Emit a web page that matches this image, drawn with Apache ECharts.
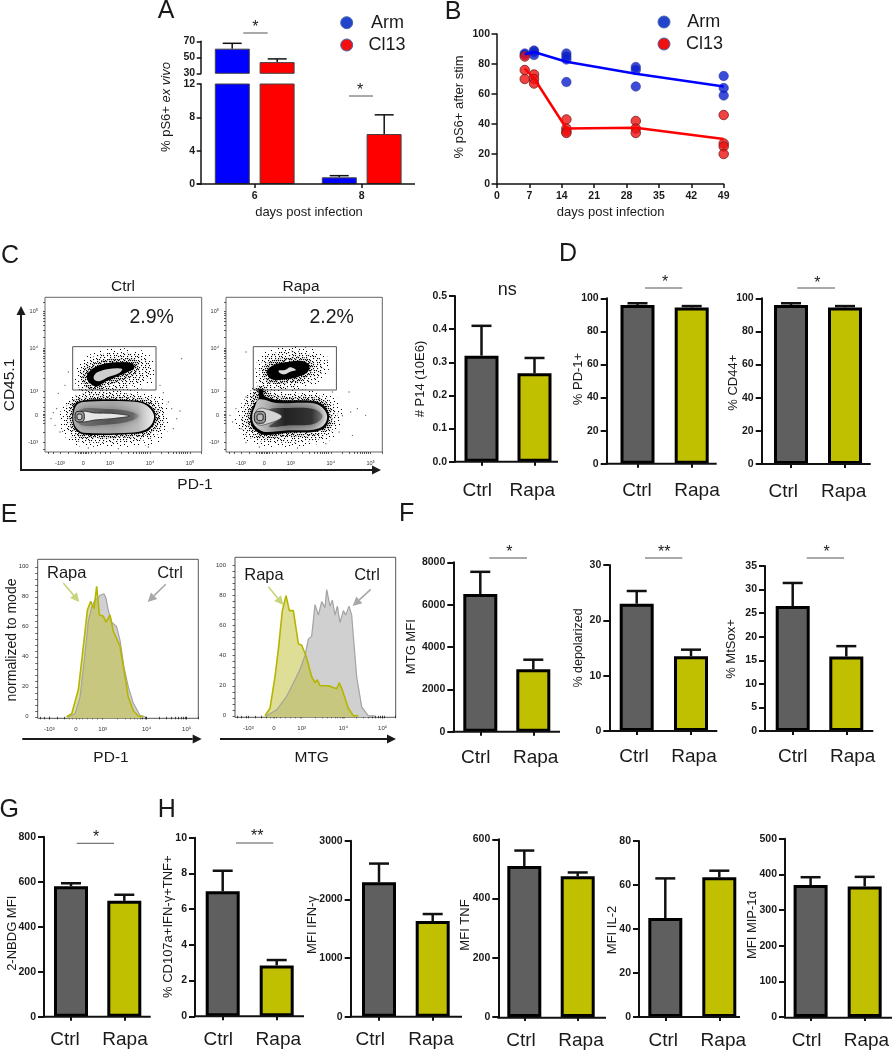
<!DOCTYPE html>
<html><head><meta charset="utf-8">
<style>html,body{margin:0;padding:0;background:#fff}#c{width:892px;height:1050px}</style>
<script src="https://cdn.jsdelivr.net/npm/echarts@6/dist/echarts.min.js"></script>
</head><body><div id="c"></div>
<script>
// ---------- DATA ----------
const categories = ['Ctrl', 'Rapa'];
const infectionDays = ['6', '8'];
const armMean = [60.8, 0.8], armHigh = [67.5, 1.0];
const cl13Mean = [44, 6], cl13High = [48, 8.3];
const bDayTicks = 7;
const armDots = [[6,87],[6,86],[8,89],[8,88],[8,86],[15,87],[15,85],[15,83],[15,68],[30,78],[30,76],[30,65],[49,72],[49,64],[49,59]];
const cl13Dots = [[6,85],[6,76],[6,70],[8,73],[8,70],[8,67],[15,43],[15,37],[15,35],[15,34],[30,42],[30,37],[30,34],[49,46],[49,27],[49,25],[49,20]];
const armLine = [[6,86.5],[8,88],[15,81.5],[30,73.5],[49,65]];
const cl13Line = [[6,77],[8,70.5],[15,37],[30,37.5],[49,30]];

const p14 = [0.32, 0.267], p14Hi = [0.41, 0.313];
const pd1 = [96, 94.5], pd1Hi = [97, 95.3];
const cd44 = [96, 94.5], cd44Hi = [97, 95.3];
const mtg = [6500, 2950], mtgHi = [7550, 3400];
const depol = [23, 13.5], depolHi = [25.3, 14.7];
const mtsox = [26.5, 15.8], mtsoxHi = [31.4, 18];
const nbdg = [580, 515], nbdgHi = [593, 542];
const cd107 = [7, 2.85], cd107Hi = [8.15, 3.15];
const ifng = [2290, 1630], ifngHi = [2610, 1750];
const tnf = [510, 475], tnfHi = [562, 488];
const il2 = [45, 63.5], il2Hi = [63, 66.5];
const mip = [370, 366], mipHi = [392, 393];

// histograms: [display channel, % of mode]
const histPdCtrl = [[92,0],[112,2],[127,13],[142,42],[152,64],[162,73],[172,78],[182,79],[187,81],[199,82],[205,79],[212,71],[222,63],[237,60],[247,51],[259,33],[272,20],[287,9],[307,1],[322,0]];
const histPdRapa = [[87,0],[102,2],[122,18],[137,47],[149,71],[159,77],[169,72],[177,87],[185,68],[197,67],[205,63],[217,68],[227,57],[247,47],[259,31],[272,13],[287,4],[302,0.5],[317,0]];
const histMtgCtrl = [[95,0],[125,4],[155,13],[180,24],[195,31],[210,40],[220,51],[230,53],[240,74],[250,67],[260,76],[270,72],[275,84],[285,73],[292,77],[300,67],[307,73],[315,62],[325,70],[332,67],[342,73],[350,67],[355,53],[365,26],[380,6],[400,0],[420,0]];
const histMtgRapa = [[90,0],[105,5],[120,26],[130,44],[142,70],[153,80],[163,70],[175,70],[190,48],[200,47],[213,40],[230,26],[240,22],[247,24],[255,20],[280,20],[305,18],[313,22],[322,17],[340,5],[355,0],[370,0]];
const histTickLabels = ['-10³', '0', '10³', '10⁴', '10⁵'];
const histPdTicks = [35, 115, 195, 327, 447];
const histMtgTicks = [40, 117, 200, 325, 443];
const histMinorTicks = [8,20,35,60,80,95,105,115,125,135,150,165,180,195,240,262,278,290,300,308,315,322,327,365,385,400,412,422,430,437,442,447,482];

// flow cytometry: display channel ticks
const flowTickLabels = ['-10³', '0', '10³', '10⁴', '10⁵'];
const flowXTicks = [45, 115, 195, 315, 435];
const flowYTicks = [29, 109, 183, 311, 421];
const flowXMinor = [10,25,45,70,90,100,105,110,115,120,125,130,140,150,165,180,195,230,250,265,275,283,290,296,301,308,315,350,370,385,395,403,410,416,421,428,435,470];
const flowYMinor = [8,29,60,85,95,105,109,113,123,135,150,165,183,220,242,258,270,280,288,295,301,306,311,345,365,380,392,401,409,415,421,450];
const gateCtrl = [[83,186],[333,186],[333,316],[83,316]];
const gateRapa = [[82,186],[332,186],[332,316],[82,316]];
// contours of the Ctrl plot
const ctrlUpSpeck2 = [[90,226],[105,271],[155,301],[235,311],[305,298],[330,256],[320,206],[255,181],[185,161],[105,171]];
const ctrlUpSpeck1 = [[100,216],[112,258],[155,290],[225,298],[290,290],[316,256],[305,222],[265,200],[205,178],[150,168],[108,180]];
const ctrlUpHalo = [[112,226],[122,252],[160,272],[215,281],[270,278],[285,256],[268,232],[225,212],[185,196],[150,185],[122,195]];
const ctrlUpBlack = [[125,226],[135,244],[165,261],[215,269],[260,266],[268,254],[250,241],[215,226],[180,211],[155,196],[135,206]];
const ctrlUpLight = [[146,226],[157,239],[190,249],[231,249],[223,237],[190,225],[165,213],[150,215]];
const ctrlLowSpeck2 = [[45,116],[70,161],[115,178],[335,172],[372,116],[355,40],[285,18],[165,16],[85,22],[50,66]];
const ctrlLowSpeck1 = [[62,106],[72,156],[110,174],[185,178],[285,172],[335,155],[358,111],[340,55],[285,33],[165,28],[95,33],[68,62]];
const ctrlLowHalo = [[75,118],[82,152],[110,162],[165,166],[250,164],[300,158],[330,140],[343,108],[335,74],[310,52],[255,44],[165,41],[105,44],[84,60],[74,90]];
const ctrlLowBlack = [[83,121],[90,144],[110,154],[165,158],[245,156],[295,150],[320,134],[332,108],[325,81],[303,61],[255,54],[165,51],[110,54],[90,69],[82,96]];
const ctrlLowFill = [[87,121],[95,141],[115,150],[245,152],[292,146],[316,130],[327,108],[320,83],[299,66],[255,58],[115,58],[94,72],[85,96]];
const ctrlLowMid = [[108,128],[170,130],[245,124],[282,108],[245,90],[170,81],[110,80],[96,100]];
const ctrlLowStreak = [[98,108],[112,122],[150,117],[200,116],[253,108],[200,100],[150,96],[112,90],[100,98]];
const ctrlRing1 = [[90,106],[103,122],[118,106],[103,90]];
const ctrlRing2 = [[96,106],[103,114],[111,106],[103,97]];
const ctrlOutliers = [[25,118],[18,100],[35,130],[30,80],[45,60],[380,130],[395,100],[385,70],[370,150],[410,280],[345,200],[60,200],[40,176],[70,240],[310,15],[220,10],[130,12],[405,123],[355,178],[480,20]];
// contours of the Rapa plot
const rapaUpSpeck2 = [[88,231],[108,296],[188,316],[278,304],[313,271],[288,216],[218,188],[108,188]];
const rapaUpSpeck1 = [[100,236],[115,280],[168,302],[238,298],[290,274],[285,232],[232,200],[158,190],[105,198]];
const rapaUpHalo = [[110,240],[125,268],[175,282],[232,285],[262,265],[258,236],[225,214],[178,206],[130,206]];
const rapaUpBlack = [[123,241],[138,258],[178,269],[228,273],[250,261],[246,241],[218,226],[178,218],[138,218]];
const rapaUpLight = [[158,244],[178,246],[193,254],[210,246],[193,241],[176,233],[163,236]];
const rapaLowSpeck2 = [[25,110],[50,150],[95,195],[330,165],[350,110],[325,45],[265,22],[125,16],[55,35],[30,75]];
const rapaLowSpeck1 = [[48,110],[62,160],[90,198],[150,176],[270,172],[318,150],[335,108],[312,56],[262,34],[125,29],[66,45],[46,80]];
const rapaLowHalo = [[90,195],[118,195],[125,178],[160,166],[262,164],[302,150],[320,108],[310,70],[272,50],[188,47],[118,41],[85,52],[66,78],[63,111],[75,145]];
const rapaLowBlack = [[98,188],[110,188],[116,168],[158,156],[258,154],[293,141],[310,108],[300,76],[268,61],[188,58],[118,51],[93,61],[76,81],[73,111],[83,141],[98,161]];
const rapaLowFill = [[100,158],[153,147],[258,147],[288,135],[304,108],[294,80],[263,67],[188,65],[118,60],[98,68],[82,86],[79,111],[87,136]];
const rapaLowMid = [[130,128],[190,132],[265,128],[290,106],[262,84],[190,80],[130,76],[165,106]];
const rapaLowStreak = [[93,126],[113,131],[168,106],[113,81],[93,84],[86,104]];
const rapaRing1 = [[85,104],[103,122],[119,104],[103,86]];
const rapaRing2 = [[93,104],[103,114],[112,104],[103,94]];
const rapaOutliers = [[12,110],[20,90],[30,130],[45,70],[60,165],[350,110],[375,120],[340,60],[380,50],[395,130],[320,180],[60,300],[420,110],[300,25],[215,12],[100,15],[60,28],[305,275],[370,180]];

// ---------- HELPERS ----------
const FF = "'Liberation Sans', Arial, sans-serif";
const INK = '#1a1a1a', GREY = '#5f5f5f', OLIVE = '#c0c000', BLUE = '#0000ff', RED = '#ff0000';
const grid = [], xAxis = [], yAxis = [], series = [], graphic = [];

function text(s, x, y, size, opt) {
  opt = opt || {};
  graphic.push({ type: 'text', x, y, rotation: opt.rot || 0, silent: true, z: 50,
    style: { text: s, fontSize: size, fontFamily: FF, fontWeight: opt.bold ? 'bold' : 'normal', fill: opt.color || INK,
      textAlign: opt.align || 'center', textVerticalAlign: 'middle', rich: opt.rich } });
}
function vtext(s, x, y, size, opt) { text(s, x, y, size, Object.assign({ rot: Math.PI / 2 }, opt || {})); }
function line(x1, y1, x2, y2, color, w) {
  graphic.push({ type: 'line', silent: true, z: 40, shape: { x1, y1, x2, y2 }, style: { stroke: color, lineWidth: w } });
}
function arrow(x1, y1, x2, y2, color, w, head, hw) {
  const a = Math.atan2(y2 - y1, x2 - x1), c = Math.cos(a), s = Math.sin(a);
  const bx = x2 - c * head, by = y2 - s * head;
  line(x1, y1, bx, by, color, w);
  graphic.push({ type: 'polygon', silent: true, z: 41, shape: { points: [[x2, y2], [bx - s * hw, by + c * hw], [bx + s * hw, by - c * hw]] }, style: { fill: color } });
}
function sig(x1, x2, y, stars, sx, sy) {
  line(x1, y, x2, y, '#555', 1);
  text(stars, sx, sy + 2, 16, { bold: false });
}
function addGrid(left, top, width, height) {
  grid.push({ left, top, width, height, containLabel: false });
  return grid.length - 1;
}
function errSeries(g, triples, off, lw, cap) {
  series.push({ type: 'custom', xAxisIndex: g, yAxisIndex: g, silent: true, animation: false, clip: false, z: 1,
    data: triples, encode: { x: 0, y: [1, 2] },
    renderItem: (p, api) => {
      const lo = api.coord([api.value(0), api.value(1)]), hi = api.coord([api.value(0), api.value(2)]);
      const x = lo[0] + off;
      return { type: 'group', children: [
        { type: 'line', shape: { x1: x, y1: lo[1], x2: x, y2: hi[1] }, style: { stroke: '#111', lineWidth: lw } },
        { type: 'line', shape: { x1: x - cap, y1: hi[1], x2: x + cap, y2: hi[1] }, style: { stroke: '#111', lineWidth: lw } } ] };
    } });
}
function barPanel(o) {
  const left = o.c1 - (o.c2 - o.c1) / 2, width = 2 * (o.c2 - o.c1);
  const g = addGrid(left, o.top, width, o.y0 - o.top);
  const s1 = o.lab[0] - o.c1, s2 = o.lab[1] - o.c2;
  const pad = s => [0, Math.max(0, -2 * s), 0, Math.max(0, 2 * s)];
  xAxis.push({ type: 'category', gridIndex: g, data: categories,
    axisLine: { show: false }, axisTick: { show: true, alignWithLabel: true, length: 4, lineStyle: { color: '#111', width: 2 } },
    axisLabel: { margin: o.lm, interval: 0, formatter: v => v === 'Ctrl' ? '{c|Ctrl}' : '{r|Rapa}',
      rich: { c: { fontSize: 19, fontFamily: FF, color: INK, padding: pad(s1) }, r: { fontSize: 19, fontFamily: FF, color: INK, padding: pad(s2) } } } });
  yAxis.push({ type: 'value', gridIndex: g, min: 0, max: o.max, interval: o.interval, offset: left - o.ax, splitLine: { show: false },
    axisLine: { show: true, lineStyle: { color: '#111', width: 2 } }, axisTick: { show: true, length: 6, lineStyle: { color: '#111', width: 2 } },
    axisLabel: { margin: 8, fontSize: 10.5, fontWeight: 'bold', fontFamily: FF, color: INK, formatter: v => (+v).toFixed(o.dec || 0) } });
  errSeries(g, o.vals.map((v, i) => [i, v, o.errs[i]]), 0, 2.5, 10);
  series.push({ type: 'bar', xAxisIndex: g, yAxisIndex: g, animation: false, barWidth: 34, silent: true, z: 2,
    data: o.vals.map((v, i) => ({ value: v, itemStyle: { color: i ? OLIVE : GREY } })),
    itemStyle: { borderColor: '#000', borderWidth: 3 } });
  line(o.ax - 1, o.y0, o.end, o.y0, '#111', 2);
  vtext(o.title, o.tx, o.ty, o.ts || 13);
}
function poly(g, points, style, smooth) {
  series.push({ type: 'custom', xAxisIndex: g, yAxisIndex: g, silent: true, animation: false, clip: false,
    data: points, encode: { x: 0, y: 1 },
    renderItem: (p, api) => p.dataIndex ? null : ({ type: 'polygon',
      shape: { points: points.map(q => api.coord(q)), smooth: smooth === undefined ? 0.35 : smooth }, style }) });
}
const grad = (x0, y0, x1, y1, stops) => new echarts.graphic.LinearGradient(x0, y0, x1, y1, stops.map(s => ({ offset: s[0], color: s[1] })));
// texture tile standing in for the individual events of a dot plot
function speckle(n, dot) {
  const S = 48, cv = document.createElement('canvas');
  cv.width = cv.height = S;
  const c = cv.getContext('2d');
  c.fillStyle = '#000';
  for (let i = 1; i <= n; i++) {
    const x = (i * 0.7548776662) % 1, y = (i * 0.5698402910) % 1;
    c.fillRect(Math.round(x * S), Math.round(y * S), dot, dot);
  }
  return { image: cv, repeat: 'repeat' };
}
const denseDots = { fill: speckle(620, 1.2) };
const midDots = { fill: speckle(340, 1.1) };
const sparseDots = { fill: speckle(130, 1) };
function flowAxes(g) {
  const fmtX = v => flowTickLabels[flowXTicks.indexOf(v)] || '';
  const fmtY = v => flowTickLabels[flowYTicks.indexOf(v)] || '';
  const small = { fontSize: 5.5, fontFamily: FF, color: '#333' };
  xAxis.push({ type: 'value', gridIndex: g, min: 0, max: 470, splitLine: { show: false }, axisLine: { show: false },
    axisTick: { show: true, length: 2, customValues: flowXMinor, lineStyle: { color: '#333', width: 0.8 } },
    axisLabel: Object.assign({ customValues: flowXTicks, formatter: fmtX, margin: 8 }, small) });
  yAxis.push({ type: 'value', gridIndex: g, min: 0, max: 464, splitLine: { show: false }, axisLine: { show: false },
    axisTick: { show: true, length: 2, customValues: flowYMinor, lineStyle: { color: '#333', width: 0.8 } },
    axisLabel: Object.assign({ customValues: flowYTicks, formatter: fmtY, margin: 7 }, small) });
}
function outliers(g, pts) {
  series.push({ type: 'scatter', xAxisIndex: g, yAxisIndex: g, silent: true, animation: false, data: pts, symbolSize: 1.3, itemStyle: { color: '#333' } });
}
function histPanel(left, top, w, h, ymin, ymax, ticks, ctrl, rapa) {
  const g = addGrid(left, top, w, h);
  grid[g].show = true; grid[g].borderColor = '#555'; grid[g].borderWidth = 1; grid[g].backgroundColor = 'transparent';
  xAxis.push({ type: 'value', gridIndex: g, min: 0, max: 482, splitLine: { show: false }, axisLine: { show: false },
    axisTick: { show: true, length: 2.5, customValues: histMinorTicks.concat(ticks), lineStyle: { color: '#222', width: 0.8 } },
    axisLabel: { customValues: ticks, formatter: v => histTickLabels[ticks.indexOf(v)] || '', fontSize: 6, fontFamily: FF, color: '#333', margin: 8 } });
  yAxis.push({ type: 'value', gridIndex: g, min: ymin, max: ymax, splitLine: { show: false }, axisLine: { show: false },
    axisTick: { show: true, length: 2.5, customValues: [0,4,8,12,16,20,24,28,32,36,40,44,48,52,56,60,64,68,72,76,80,84,88,92,96,100], lineStyle: { color: '#222', width: 0.7 } },
    axisLabel: { customValues: [0,20,40,60,80,100], fontSize: 6, fontFamily: FF, color: '#333', margin: 9 } });
  series.push({ type: 'line', xAxisIndex: g, yAxisIndex: g, name: 'Ctrl', animation: false, silent: true, showSymbol: false, data: ctrl,
    lineStyle: { color: '#a3a3a3', width: 1.2 }, areaStyle: { color: '#d0d0d0', origin: 'start', opacity: 1 } });
  series.push({ type: 'line', xAxisIndex: g, yAxisIndex: g, name: 'Rapa', animation: false, silent: true, showSymbol: false, data: rapa,
    lineStyle: { color: '#b5b500', width: 1.6 }, areaStyle: { color: '#bdbd30', origin: 'start', opacity: 0.5 } });
}

// ---------- PANEL A ----------
(function () {
  const L = 201.2, W = 214;
  const up = addGrid(L, 41.3, W, 32), lo = addGrid(L, 84, W, 100);
  const yStyle = { margin: 6, fontSize: 10.5, fontWeight: 'bold', fontFamily: FF, color: INK };
  const yLine = { show: true, lineStyle: { color: '#222', width: 1.6 } };
  xAxis.push({ type: 'category', gridIndex: up, data: infectionDays, show: false });
  xAxis.push({ type: 'category', gridIndex: lo, data: infectionDays, axisLine: { show: false },
    axisTick: { show: true, alignWithLabel: true, length: 4, lineStyle: { color: '#111', width: 1.5 } },
    axisLabel: { margin: 7, fontSize: 10.5, fontWeight: 'bold', fontFamily: FF, color: INK } });
  yAxis.push({ type: 'value', gridIndex: up, min: 30, max: 70, splitLine: { show: false }, axisLine: yLine,
    axisTick: { show: true, length: 4.5, customValues: [30, 50, 70], lineStyle: { color: '#111', width: 1.5 } },
    axisLabel: Object.assign({ customValues: [30, 50, 70] }, yStyle) });
  yAxis.push({ type: 'value', gridIndex: lo, min: 0, max: 12, interval: 4, splitLine: { show: false }, axisLine: yLine,
    axisTick: { show: true, length: 4.5, lineStyle: { color: '#111', width: 1.5 } }, axisLabel: yStyle });
  errSeries(up, [[0, armMean[0], armHigh[0]]], -22.5, 1.5, 9.5);
  errSeries(up, [[0, cl13Mean[0], cl13High[0]]], 22.5, 1.5, 9.5);
  errSeries(lo, [[1, armMean[1], armHigh[1]]], -22.5, 1.5, 9.5);
  errSeries(lo, [[1, cl13Mean[1], cl13High[1]]], 22.5, 1.5, 9.5);
  [[up, [armMean[0], null], [cl13Mean[0], null]], [lo, armMean, cl13Mean]].forEach(r => {
    [['Arm', BLUE, r[1]], ['Cl13', RED, r[2]]].forEach(s => {
      series.push({ type: 'bar', name: s[0], xAxisIndex: r[0], yAxisIndex: r[0], animation: false, silent: true, clip: true, z: 2,
        data: s[2], barWidth: 35, barGap: '28%', itemStyle: { color: s[1], borderColor: '#444', borderWidth: 1 } });
    });
  });
  line(196.7, 184, 415, 184, '#111', 1.5);
  text('A', 166, 11, 25);
  vtext('{n|% pS6+ }{i|ex vivo}', 166.7, 107, 13, { rich: { n: { fontSize: 13, fontFamily: FF, fill: INK, color: INK }, i: { fontSize: 13, fontFamily: FF, fontStyle: 'italic', fill: INK, color: INK } } });
  text('days post infection', 309, 212, 13);
  sig(243.3, 267.7, 33, '*', 255.3, 26);
  sig(349, 373, 96, '*', 360, 88.7);
  [[346.7, 22.7, '#2244cc', 'Arm', 371], [346.7, 45, '#f01010', 'Cl13', 368.5]].forEach(l => {
    graphic.push({ type: 'circle', silent: true, shape: { cx: l[0], cy: l[1], r: 6 }, style: { fill: l[2], stroke: '#4a66aa', lineWidth: 1 } });
    text(l[3], l[4], l[1], 18, { align: 'left' });
  });
})();

// ---------- PANEL B ----------
(function () {
  const g = addGrid(497, 34, 226.7, 150);
  const st = { margin: 7, fontSize: 10.5, fontWeight: 'bold', fontFamily: FF, color: INK };
  xAxis.push({ type: 'value', gridIndex: g, min: 0, max: 49, interval: bDayTicks, splitLine: { show: false },
    axisLine: { show: true, onZero: false, lineStyle: { color: '#111', width: 1.5 } }, axisTick: { show: true, length: 4, lineStyle: { color: '#111', width: 1.5 } },
    axisLabel: Object.assign({}, st, { margin: 7 }) });
  yAxis.push({ type: 'value', gridIndex: g, min: 0, max: 100, interval: 20, splitLine: { show: false },
    axisLine: { show: true, onZero: false, lineStyle: { color: '#111', width: 1.5 } }, axisTick: { show: true, length: 5.5, lineStyle: { color: '#111', width: 1.5 } }, axisLabel: st });
  series.push({ type: 'line', name: 'Arm', xAxisIndex: g, yAxisIndex: g, data: armLine, showSymbol: false, animation: false, silent: true, lineStyle: { color: BLUE, width: 2.5 } });
  series.push({ type: 'scatter', name: 'Arm', xAxisIndex: g, yAxisIndex: g, data: armDots, symbolSize: 9.5, animation: false, silent: true, clip: false, itemStyle: { color: '#0a1fd0', borderColor: '#222a88', borderWidth: 0.6 } });
  series.push({ type: 'line', name: 'Cl13', xAxisIndex: g, yAxisIndex: g, data: cl13Line, showSymbol: false, animation: false, silent: true, lineStyle: { color: RED, width: 2.5 } });
  series.push({ type: 'scatter', name: 'Cl13', xAxisIndex: g, yAxisIndex: g, data: cl13Dots, symbolSize: 9.5, animation: false, silent: true, clip: false, itemStyle: { color: '#ee1111', borderColor: '#7a1a1a', borderWidth: 1 } });
  text('B', 453, 12, 25);
  vtext('% pS6+ after stim', 459.3, 107, 13);
  text('days post infection', 610.7, 212, 13);
  [[664, 22, '#2244cc', 'Arm', 687.3], [664, 44, '#f01010', 'Cl13', 686]].forEach(l => {
    graphic.push({ type: 'circle', silent: true, shape: { cx: l[0], cy: l[1], r: 6 }, style: { fill: l[2], stroke: '#4a66aa', lineWidth: 1 } });
    text(l[3], l[4], l[1], 18, { align: 'left' });
  });
})();

// ---------- PANEL C ----------
(function () {
  const g1 = addGrid(45, 297.3, 156.7, 154.7), g2 = addGrid(226, 297.3, 156.3, 154.7);
  [g1, g2].forEach(g => { grid[g].show = true; grid[g].borderColor = '#666'; grid[g].borderWidth = 1; flowAxes(g); });
  const lowFill = grad(0, 0, 1, 0, [[0, '#b5b5b5'], [0.5, '#a5a5a5'], [0.8, '#bbb'], [1, '#eee']]);
  [[ctrlLowSpeck2, sparseDots], [ctrlLowSpeck1, midDots], [ctrlLowHalo, denseDots], [ctrlUpSpeck2, sparseDots], [ctrlUpSpeck1, midDots], [ctrlUpHalo, denseDots]].forEach(a => poly(g1, a[0], a[1]));
  poly(g1, gateCtrl, { fill: 'none', stroke: '#555', lineWidth: 1 }, 0);
  poly(g1, ctrlUpBlack, { fill: '#000' });
  poly(g1, ctrlUpLight, { fill: '#cfcfcf' });
  poly(g1, ctrlLowBlack, { fill: '#000' });
  poly(g1, ctrlLowFill, { fill: lowFill });
  poly(g1, ctrlLowMid, { fill: grad(0, 0, 1, 0, [[0, '#777'], [0.5, '#555'], [0.9, '#666'], [1, '#999']]), shadowBlur: 7, shadowColor: '#777' });
  poly(g1, ctrlLowStreak, { fill: '#e6e6e6', stroke: '#222', lineWidth: 0.8 });
  poly(g1, ctrlRing1, { fill: '#999', stroke: '#111', lineWidth: 0.9 }, 0.8);
  poly(g1, ctrlRing2, { fill: '#ccc', stroke: '#111', lineWidth: 0.9 }, 0.8);
  outliers(g1, ctrlOutliers);
  const rapaFill = grad(0, 0, 1, 0, [[0, '#cfcfcf'], [0.45, '#8f8f8f'], [0.8, '#aaa'], [1, '#eee']]);
  [[rapaLowSpeck2, sparseDots], [rapaLowSpeck1, midDots], [rapaLowHalo, denseDots], [rapaUpSpeck2, sparseDots], [rapaUpSpeck1, midDots], [rapaUpHalo, denseDots]].forEach(a => poly(g2, a[0], a[1]));
  poly(g2, gateRapa, { fill: 'none', stroke: '#555', lineWidth: 1 }, 0);
  poly(g2, rapaUpBlack, { fill: '#000' });
  poly(g2, rapaUpLight, { fill: '#ddd' });
  poly(g2, rapaLowBlack, { fill: '#000' });
  poly(g2, rapaLowFill, { fill: rapaFill });
  poly(g2, rapaLowMid, { fill: grad(0, 0, 1, 0, [[0, '#555'], [0.3, '#222'], [0.8, '#333'], [1, '#777']]), shadowBlur: 8, shadowColor: '#555' });
  poly(g2, rapaLowStreak, { fill: '#d5d5d5', stroke: '#333', lineWidth: 0.6 });
  poly(g2, rapaRing1, { fill: '#999', stroke: '#111', lineWidth: 0.9 }, 0.8);
  poly(g2, rapaRing2, { fill: '#bbb', stroke: '#111', lineWidth: 0.9 }, 0.8);
  outliers(g2, rapaOutliers);
  text('C', 10, 256, 25);
  text('Ctrl', 123, 287, 15.5);
  text('Rapa', 301, 287, 15.5);
  text('2.9%', 151.7, 318, 19.5);
  text('2.2%', 331.7, 318, 19.5);
  vtext('CD45.1', 10, 385, 15.5);
  text('PD-1', 195, 485, 15.5);
  arrow(21, 471, 21, 306, '#1a1a1a', 2, 9, 4.5);
  arrow(20, 470, 381, 470, '#1a1a1a', 2, 9, 4.5);
})();

// ---------- PANEL E ----------
(function () {
  histPanel(37.7, 559.3, 160.6, 159, -1, 105, histPdTicks, histPdCtrl, histPdRapa);
  histPanel(235, 557.3, 160.7, 160, -1, 105.5, histMtgTicks, histMtgCtrl, histMtgRapa);
  text('E', 9, 515, 25);
  vtext('normalized to mode', 11.7, 640, 14);
  text('Rapa', 66.7, 573, 16.5); text('Ctrl', 170, 573, 16.5);
  text('Rapa', 264, 575, 16.5); text('Ctrl', 367, 575, 16.5);
  arrow(63.3, 583, 79.3, 602, '#c8d47a', 1.6, 9, 4.5);
  arrow(165.7, 584.3, 147.7, 602, '#a8a8a8', 1.6, 9, 4.5);
  arrow(268.3, 586.7, 283.3, 605, '#c8d47a', 1.6, 9, 4.5);
  arrow(370.7, 589.3, 352.7, 606, '#a8a8a8', 1.6, 9, 4.5);
  arrow(22.3, 739, 201.7, 739, '#1a1a1a', 1.8, 9, 4.5);
  arrow(220, 739, 396, 739, '#1a1a1a', 1.8, 9, 4.5);
  text('PD-1', 111, 758, 15.5); text('MTG', 311.7, 758, 15.5);
})();

// ---------- BAR PANELS ----------
[
  { ax: 455, c1: 481.5, c2: 534.5, end: 558, y0: 461.7, top: 296, max: 0.5, interval: 0.1, dec: 1, vals: p14, errs: p14Hi, lab: [477.3, 532.3], lm: 19.5, title: '# P14 (10E6)', tx: 420.7, ty: 379 },
  { ax: 606.7, c1: 637.5, c2: 691.7, end: 716.7, y0: 463.7, top: 298.3, max: 100, interval: 20, vals: pd1, errs: pd1Hi, lab: [637, 697], lm: 18, title: '% PD-1+', tx: 578.3, ty: 379 },
  { ax: 761.7, c1: 791, c2: 845, end: 870.7, y0: 464, top: 298.3, max: 100, interval: 20, vals: cd44, errs: cd44Hi, lab: [783.3, 843.7], lm: 18, title: '% CD44+', tx: 733.3, ty: 382.7 },
  { ax: 453.3, c1: 480.3, c2: 533.3, end: 560, y0: 731.7, top: 562.3, max: 8000, interval: 2000, vals: mtg, errs: mtgHi, lab: [475.7, 535.7], lm: 16.5, title: 'MTG MFI', tx: 411, ty: 646.7 },
  { ax: 609.3, c1: 636.7, c2: 691, end: 717.3, y0: 731, top: 565, max: 30, interval: 10, vals: depol, errs: depolHi, lab: [634, 694], lm: 16.5, title: '% depolarized', tx: 578.3, ty: 648, ts: 12.5 },
  { ax: 765, c1: 792.7, c2: 846.3, end: 873.3, y0: 731, top: 566, max: 35, interval: 5, vals: mtsox, errs: mtsoxHi, lab: [792.7, 852.7], lm: 16.5, title: '% MtSox+', tx: 731.7, ty: 649 },
  { ax: 44, c1: 71, c2: 124.3, end: 150.7, y0: 1016.7, top: 836.7, max: 800, interval: 200, vals: nbdg, errs: nbdgHi, lab: [65, 125], lm: 14, title: '2-NBDG MFI', tx: 12.7, ty: 933.3 },
  { ax: 195, c1: 222.7, c2: 276.7, end: 304, y0: 1016.3, top: 837.7, max: 10, interval: 2, vals: cd107, errs: cd107Hi, lab: [218.3, 278.3], lm: 14, title: '% CD107a+IFN-γ+TNF+', tx: 168.3, ty: 926.7 },
  { ax: 350.7, c1: 379, c2: 432.7, end: 462, y0: 1016.7, top: 840.7, max: 3000, interval: 1000, vals: ifng, errs: ifngHi, lab: [370.3, 431], lm: 14, title: 'MFI IFN-γ', tx: 312.7, ty: 925 },
  { ax: 498.3, c1: 524.3, c2: 577.7, end: 606, y0: 1017.7, top: 839.3, max: 600, interval: 200, vals: tnf, errs: tnfHi, lab: [521, 581], lm: 14, title: 'MFI TNF', tx: 465, ty: 925 },
  { ax: 639, c1: 665.3, c2: 719.3, end: 740, y0: 1017, top: 841, max: 80, interval: 20, vals: il2, errs: il2Hi, lab: [663.3, 723.3], lm: 14, title: 'MFI IL-2', tx: 612.3, ty: 930 },
  { ax: 785, c1: 810.7, c2: 865, end: 892, y0: 1017.7, top: 838.7, max: 500, interval: 100, vals: mip, errs: mipHi, lab: [806.7, 866.7], lm: 14, title: 'MFI MIP-1α', tx: 752.7, ty: 925 }
].forEach(barPanel);

text('ns', 507.3, 290, 18);
text('D', 568, 254, 25);
sig(645, 682.3, 288, '*', 665, 281);
sig(797.3, 835, 288, '*', 817.3, 281.7);
text('F', 406.7, 514, 25);
sig(489.3, 527, 558, '*', 509.3, 551);
sig(645, 682.3, 558, '**', 664.3, 550.7);
sig(806.7, 844, 558, '*', 826.7, 551);
text('G', 9.3, 810, 25);
text('H', 166.7, 810, 25);
sig(76.7, 114, 843.3, '*', 96, 836);
sig(236, 273.3, 843, '**', 257.3, 835);

// ---------- RENDER ----------
const chart = echarts.init(document.getElementById('c'), null, { renderer: 'canvas' });
chart.setOption({ backgroundColor: '#fff', animation: false, grid, xAxis, yAxis, series, graphic: { elements: graphic } });
</script></body></html>
